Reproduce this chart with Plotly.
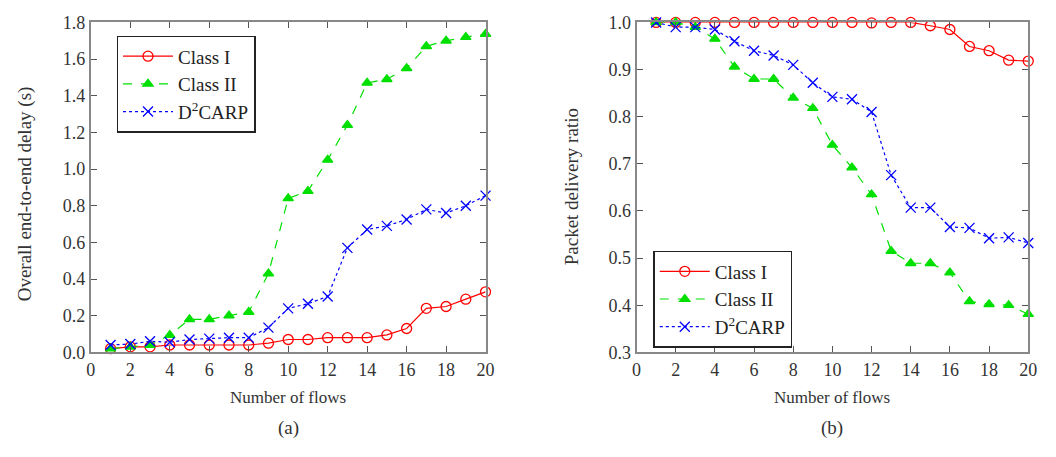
import plotly.graph_objects as go

flows = list(range(1, 21))

# (a) Overall end-to-end delay (s)
delay_class1 = [0.02, 0.03, 0.03, 0.04, 0.04, 0.04, 0.04, 0.04, 0.05, 0.07,
                0.07, 0.08, 0.08, 0.08, 0.095, 0.13, 0.24, 0.25, 0.29, 0.33]
delay_class2 = [0.02, 0.03, 0.04, 0.094, 0.18, 0.18, 0.20, 0.22, 0.43, 0.84,
                0.88, 1.05, 1.24, 1.47, 1.49, 1.55, 1.67, 1.70, 1.72, 1.737]
delay_d2carp = [0.04, 0.045, 0.06, 0.055, 0.07, 0.075, 0.08, 0.08, 0.135, 0.24,
                0.265, 0.305, 0.57, 0.67, 0.69, 0.725, 0.78, 0.76, 0.80, 0.855]

# (b) Packet delivery ratio
pdr_class1 = [1.0, 1.0, 1.0, 1.0, 1.0, 1.0, 1.0, 1.0, 1.0, 1.0,
              1.0, 0.999, 1.0, 1.0, 0.993, 0.985, 0.949, 0.94, 0.92, 0.918]
pdr_class2 = [1.0, 1.0, 0.99, 0.965, 0.906, 0.88, 0.88, 0.84, 0.818, 0.74,
              0.692, 0.635, 0.515, 0.489, 0.489, 0.469, 0.408, 0.402, 0.40, 0.381]
pdr_d2carp = [1.0, 0.99, 0.99, 0.985, 0.96, 0.94, 0.93, 0.91, 0.872, 0.842,
              0.837, 0.81, 0.676, 0.607, 0.607, 0.566, 0.564, 0.542, 0.544, 0.532]

series_names = ["Class I", "Class II", "D<sup>2</sup>CARP"]
x_ticks = [0, 2, 4, 6, 8, 10, 12, 14, 16, 18, 20]
delay_ticks = [0.0, 0.2, 0.4, 0.6, 0.8, 1.0, 1.2, 1.4, 1.6, 1.8]
pdr_ticks = [0.3, 0.4, 0.5, 0.6, 0.7, 0.8, 0.9, 1.0]

styles = [
    dict(color="#ff0000", dash="solid", symbol="circle-open", size=10),
    dict(color="#00e000", dash="dash", symbol="triangle-up", size=9),
    dict(color="#0000ff", dash="dot", symbol="x-thin-open", size=10),
]

FONT = "Liberation Serif"
fig = go.Figure()

def add_series(ys_list, xaxis, yaxis, legend):
    for name, ys, st in zip(series_names, ys_list, styles):
        fig.add_trace(go.Scatter(
            x=flows, y=ys, name=name, mode="lines+markers",
            xaxis=xaxis, yaxis=yaxis, legend=legend, cliponaxis=False,
            line=dict(color=st["color"], dash=st["dash"], width=1.2),
            marker=dict(symbol=st["symbol"], size=st["size"], color=st["color"],
                        line=dict(color=st["color"], width=1.3)),
        ))

add_series([delay_class1, delay_class2, delay_d2carp], "x", "y", "legend")
add_series([pdr_class1, pdr_class2, pdr_d2carp], "x2", "y2", "legend2")

W, H = 1056, 457
yd = [1 - 358 / H, 1 - 13 / H]

axis_common = dict(
    showline=True, linecolor="#888888", linewidth=2, mirror="ticks",
    ticks="inside", ticklen=6, tickwidth=1.2, tickcolor="#555555",
    showgrid=False, zeroline=False,
    tickfont=dict(family=FONT, size=18, color="#333333"),
)

legend_common = dict(
    xanchor="left", yanchor="top",
    bordercolor="#222222", borderwidth=1.5, bgcolor="white",
    font=dict(family=FONT, size=19, color="#222222"),
    tracegroupgap=0, itemwidth=50,
)

fig.update_layout(
    width=W, height=H,
    margin=dict(l=0, r=0, t=0, b=0),
    paper_bgcolor="white", plot_bgcolor="white",
    xaxis=dict(domain=[87 / W, 487 / W], range=[0, 20], tickvals=x_ticks,
               anchor="y", **axis_common),
    yaxis=dict(domain=yd, range=[0, 1.8], tickvals=delay_ticks,
               tickformat=".1f", anchor="x", **axis_common),
    xaxis2=dict(domain=[640 / W, 1037 / W], range=[0, 20], tickvals=x_ticks,
                anchor="y2", **axis_common),
    yaxis2=dict(domain=yd, range=[0.3, 1.0], tickvals=pdr_ticks,
                tickformat=".1f", anchor="x2", **axis_common),
    legend=dict(x=113 / W, y=1 - 27 / H, **legend_common),
    legend2=dict(x=657 / W, y=1 - 252 / H, **legend_common),
    showlegend=True,
)

annots = [
    dict(text="Number of flows", x=287 / W, y=1 - 405 / H, size=17),
    dict(text="(a)", x=287 / W, y=1 - 437 / H, size=19),
    dict(text="Number of flows", x=838 / W, y=1 - 405 / H, size=17),
    dict(text="(b)", x=838 / W, y=1 - 437 / H, size=19),
]
for a in annots:
    fig.add_annotation(text=a["text"], x=a["x"], y=a["y"],
                       xref="paper", yref="paper", showarrow=False,
                       xanchor="center", yanchor="middle",
                       font=dict(family=FONT, size=a["size"], color="#333333"))

fig.add_annotation(text="Overall end-to-end delay (s)", x=20 / W, y=1 - 192 / H,
                   xref="paper", yref="paper", showarrow=False, textangle=-90,
                   xanchor="center", yanchor="middle",
                   font=dict(family=FONT, size=19, color="#333333"))
fig.add_annotation(text="Packet delivery ratio", x=575 / W, y=1 - 185 / H,
                   xref="paper", yref="paper", showarrow=False, textangle=-90,
                   xanchor="center", yanchor="middle",
                   font=dict(family=FONT, size=19, color="#333333"))

fig.write_html("out.html")
